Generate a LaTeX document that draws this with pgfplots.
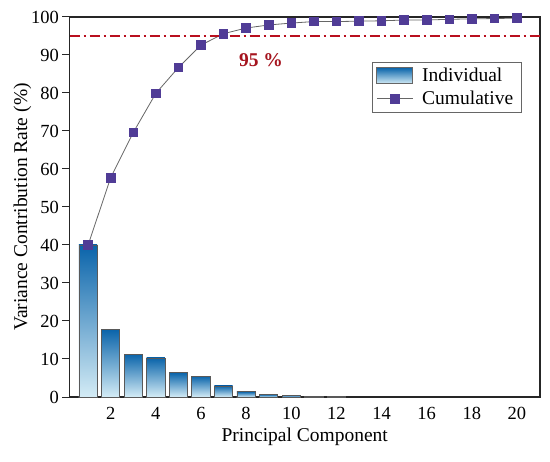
\documentclass[border=0pt]{standalone}
\usepackage{fontspec}
\setmainfont{Liberation Serif}
\usepackage{pgfplots}
\pgfplotsset{compat=1.18}
\definecolor{barTop}{RGB}{10,100,170}
\definecolor{barBot}{RGB}{212,236,246}
\definecolor{mkfill}{RGB}{80,60,150}
\definecolor{lred}{RGB}{185,15,30}
\definecolor{tred}{RGB}{165,20,30}
\pgfplotsset{
  barlegend/.style={legend image code/.code={\draw[draw=black!60, line width=0.7bp, top color=barTop, bottom color=barBot] (0bp,-8bp) rectangle (36bp,8bp);}},
  linelegend/.style={legend image code/.code={\draw[##1,mark=none] (0bp,0bp) -- (36bp,0bp);\draw[##1] plot coordinates {(18bp,0bp)};}},
  onebar/.style={ybar, bar shift=0pt, bar width=0.81, draw=black!65, line width=0.7bp,
    top color=barTop, bottom color=barBot},
}
\begin{document}
\begin{tikzpicture}
\begin{axis}[
  at={(69.5bp,65bp)}, anchor=south west,
  scale only axis, width=470.5bp, height=380bp,
  xmin=0.176, xmax=21.02, ymin=0, ymax=100,
  xtick={2,4,...,20}, ytick={0,10,...,100},
  xticklabels={2,4,6,8,10,12,14,16,18,20},
  yticklabels={0,10,20,30,40,50,60,70,80,90,100},
  major x tick style={draw=none},
  ytick pos=left, tick align=outside, major tick length=7bp,
  axis line style={line width=1.1bp, black!85},
  tick style={line width=1bp, black!85},
  tick label style={font=\rmfamily\fontsize{18.5bp}{20bp}\selectfont},
  label style={font=\rmfamily\fontsize{19.5bp}{22bp}\selectfont},
  xlabel={Principal Component},
  ylabel={Variance Contribution Rate (\%)},
  xlabel style={yshift=-1bp},
  ylabel style={yshift=-7bp},
  legend style={at={(0.643,0.882)}, anchor=north west, draw=black!60, line width=0.8bp,
    font=\rmfamily\fontsize{19.5bp}{22bp}\selectfont, inner xsep=4bp, inner ysep=4bp,
    nodes={inner xsep=4bp, inner ysep=2bp}, row sep=4bp,
    /tikz/every odd column/.append style={column sep=5bp}},
  legend cell align=left,
]
\addplot[onebar, barlegend] coordinates {(1,40.0)};
\addlegendentry{Individual}
\addplot[black!60, line width=0.8bp, mark=square*, mark size=4.3bp,
  mark options={fill=mkfill, draw=mkfill, solid}, linelegend]
  coordinates {(1,40.0) (2,57.7) (3,69.6) (4,79.9) (5,86.7) (6,92.6) (7,95.6) (8,97.1) (9,97.9) (10,98.4)
   (11,98.8) (12,98.8) (13,98.9) (14,99.0) (15,99.2) (16,99.2) (17,99.4) (18,99.5) (19,99.6) (20,99.7)};
\addlegendentry{Cumulative}
\addplot[onebar, forget plot] coordinates {(2,17.8)};
\addplot[onebar, forget plot] coordinates {(3,11.3)};
\addplot[onebar, forget plot] coordinates {(4,10.3)};
\addplot[onebar, forget plot] coordinates {(5,6.4)};
\addplot[onebar, forget plot] coordinates {(6,5.5)};
\addplot[onebar, forget plot] coordinates {(7,2.9)};
\addplot[onebar, forget plot] coordinates {(8,1.4)};
\addplot[onebar, forget plot] coordinates {(9,0.65)};
\addplot[onebar, forget plot] coordinates {(10,0.45)};
\addplot[onebar, forget plot] coordinates {(11,0.3)};
\addplot[onebar, forget plot] coordinates {(12,0.15)};
\addplot[lred, line width=1.5bp, dash pattern=on 10bp off 4bp on 2bp off 4bp, forget plot]
  coordinates {(0.176,95) (21.02,95)};
\node[text=tred, font=\rmfamily\fontsize{19.5bp}{22bp}\selectfont\bfseries] at (axis cs:8.66,88.7) {95 \%};
\end{axis}
\pgfresetboundingbox
\path[use as bounding box] (0,0) rectangle (550bp,462bp);
\end{tikzpicture}
\end{document}
